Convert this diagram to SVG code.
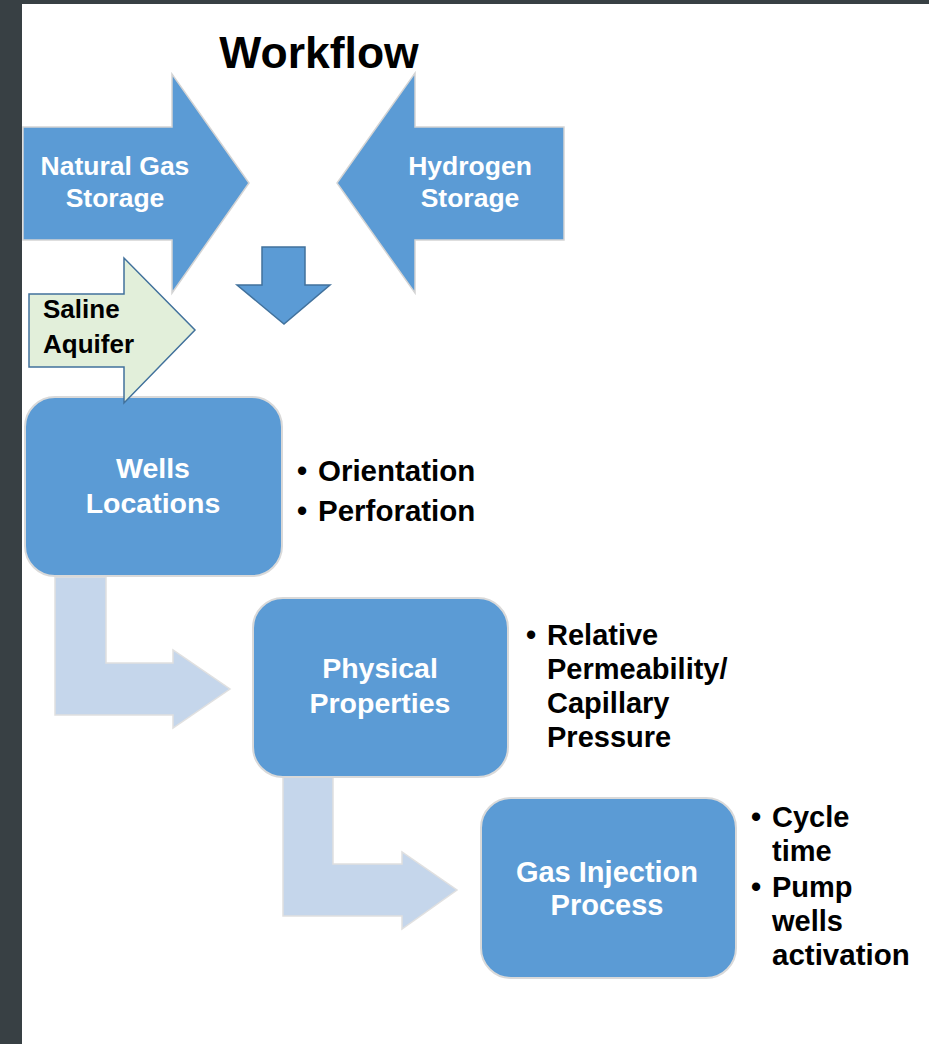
<svg xmlns="http://www.w3.org/2000/svg" width="929" height="1044" viewBox="0 0 929 1044">
  <style>
    .blue { fill: #5b9bd5; stroke: #d4d4d4; stroke-width: 1.5; }
    .box { fill: #5b9bd5; stroke: #d9d9d9; stroke-width: 2; }
    .bend { fill: #c5d6eb; stroke: #e0e0e0; stroke-width: 1.5; }
    .dark { fill: #5b9bd5; stroke: #41719c; stroke-width: 1.5; }
    .green { fill: #e2efda; stroke: #41719c; stroke-width: 1.5; }
    text { font-family: "Liberation Sans", Arial, sans-serif; font-weight: bold; }
    .wt { fill: #ffffff; text-anchor: middle; }
    .bk { fill: #000000; }
  </style>

  <!-- frame -->
  <rect x="0" y="0" width="929" height="1044" fill="#384044"/>
  <rect x="22" y="4" width="907" height="1040" fill="#ffffff"/>

  <text x="319" y="68" font-size="44.5" class="bk" text-anchor="middle">Workflow</text>

  <!-- connectors -->
  <g id="connectors">
    <polygon class="dark" points="262,247 305,247 305,285 330,285 284,324 237,285 262,285"/>
    <polygon class="bend" points="55,577 106,577 106,663 173,663 173,650 230,689 173,728 173,715 55,715"/>
    <polygon class="bend" points="283,777 333,777 333,864 402,864 402,852 457,890 402,929 402,916 283,916"/>
  </g>

  <g id="natural-gas">
    <polygon class="blue" points="23,127 172,127 172,74 249,183 172,293 172,240 23,240"/>
    <text class="wt" x="115" y="175" font-size="26.5">Natural Gas</text>
    <text class="wt" x="115" y="207" font-size="26.5">Storage</text>
  </g>

  <g id="hydrogen">
    <polygon class="blue" points="564,127 415,127 415,73 337,183 415,293 415,240 564,240"/>
    <text class="wt" x="470" y="175" font-size="26.5">Hydrogen</text>
    <text class="wt" x="470" y="207" font-size="26.5">Storage</text>
  </g>

  <g id="wells">
    <rect class="box" x="25" y="397" width="257" height="179" rx="30"/>
    <text class="wt" x="153" y="478" font-size="28.5">Wells</text>
    <text class="wt" x="153" y="513" font-size="28.5">Locations</text>
    <text class="bk" x="297" y="481" font-size="29">•</text>
    <text class="bk" x="318" y="481" font-size="29.5">Orientation</text>
    <text class="bk" x="297" y="521" font-size="29">•</text>
    <text class="bk" x="318" y="521" font-size="29.5">Perforation</text>
  </g>

  <g id="saline">
    <polygon class="green" points="29,294 124,294 124,258 195,330 124,403 124,367 29,367"/>
    <text class="bk" x="43" y="318" font-size="26">Saline</text>
    <text class="bk" x="43" y="353" font-size="26">Aquifer</text>
  </g>

  <g id="physical">
    <rect class="box" x="253" y="598" width="255" height="179" rx="30"/>
    <text class="wt" x="380" y="678" font-size="28.5">Physical</text>
    <text class="wt" x="380" y="713" font-size="28.5">Properties</text>
    <text class="bk" x="526" y="645" font-size="29">•</text>
    <text class="bk" x="547" y="645" font-size="29">Relative</text>
    <text class="bk" x="547" y="679" font-size="29">Permeability/</text>
    <text class="bk" x="547" y="713" font-size="29">Capillary</text>
    <text class="bk" x="547" y="747" font-size="29">Pressure</text>
  </g>

  <g id="injection">
    <rect class="box" x="481" y="798" width="255" height="180" rx="30"/>
    <text class="wt" x="607" y="882" font-size="29">Gas Injection</text>
    <text class="wt" x="607" y="915" font-size="29">Process</text>
    <text class="bk" x="751" y="827" font-size="29">•</text>
    <text class="bk" x="772" y="827" font-size="29">Cycle</text>
    <text class="bk" x="772" y="861" font-size="29">time</text>
    <text class="bk" x="751" y="897" font-size="29">•</text>
    <text class="bk" x="772" y="897" font-size="29">Pump</text>
    <text class="bk" x="772" y="931" font-size="29">wells</text>
    <text class="bk" x="772" y="965" font-size="29.5">activation</text>
  </g>
</svg>
